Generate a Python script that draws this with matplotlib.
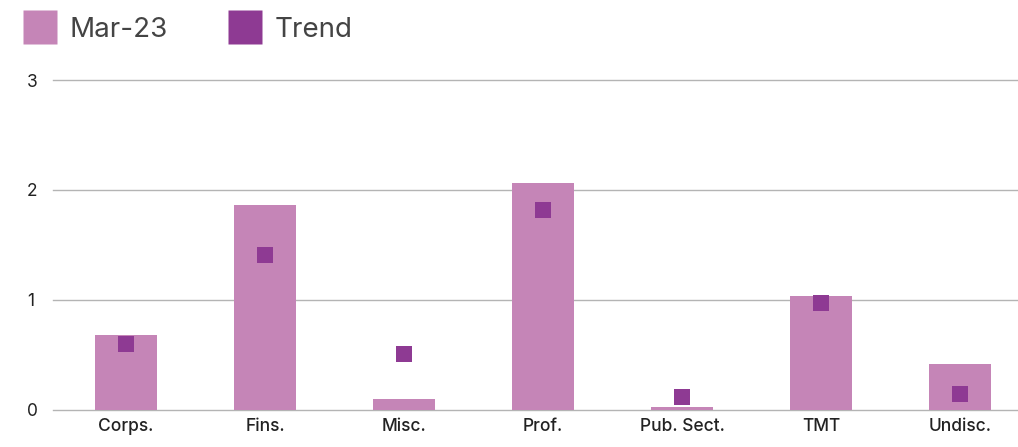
import matplotlib.pyplot as plt
from matplotlib.lines import Line2D

plt.rcParams['font.family'] = ['Inter', 'Roboto', 'DejaVu Sans']

categories = ['Corps.', 'Fins.', 'Misc.', 'Prof.', 'Pub. Sect.', 'TMT', 'Undisc.']
mar23 = [0.68, 1.86, 0.10, 2.06, 0.03, 1.04, 0.42]
trend = [0.60, 1.41, 0.51, 1.82, 0.12, 0.97, 0.145]

BAR_COLOR = '#c585b7'
TREND_COLOR = '#8e3a93'
TEXT_COLOR = '#444444'
GRID_COLOR = '#b4b4b4'

fig = plt.figure(figsize=(10.18, 4.47), dpi=100)
ax = fig.add_axes([0.052, 0.083, 0.948, 0.738])

x = list(range(len(categories)))
ax.bar(x, mar23, width=0.446, color=BAR_COLOR, zorder=2)
ax.scatter(x, trend, marker='s', s=16 ** 2 * 0.52, color=TREND_COLOR,
           edgecolors='none', zorder=3)

ax.set_xlim(-0.525, 6.417)
ax.set_ylim(0, 3)
ax.set_yticks([0, 1, 2, 3])
ax.set_xticks(x)
ax.set_xticklabels(categories, fontweight='medium')
ax.yaxis.grid(True, color=GRID_COLOR, linewidth=1, zorder=0)
for gl in ax.get_ygridlines():
    gl.set_clip_on(False)
ax.set_axisbelow(True)
for side in ['top', 'right', 'left', 'bottom']:
    ax.spines[side].set_visible(False)
ax.tick_params(axis='both', length=0, labelsize=12.5, labelcolor='#222222')
ax.tick_params(axis='y', pad=0)
ax.tick_params(axis='x', pad=6)
for lbl in ax.get_yticklabels():
    lbl.set_horizontalalignment('left')
    lbl.set_x(-0.027)

handles = [
    Line2D([], [], marker='s', linestyle='none', markersize=24.5,
           markerfacecolor=BAR_COLOR, markeredgecolor='none', label='Mar-23'),
    Line2D([], [], marker='s', linestyle='none', markersize=24.5,
           markerfacecolor=TREND_COLOR, markeredgecolor='none', label='Trend'),
]
fig.legend(handles=handles, loc='upper left', bbox_to_anchor=(-0.003, 1.018),
           ncol=2, frameon=False, fontsize=20, labelcolor=TEXT_COLOR,
           handlelength=1.3, handletextpad=0.4, columnspacing=2.15)

fig.savefig('out.png', dpi=100)
